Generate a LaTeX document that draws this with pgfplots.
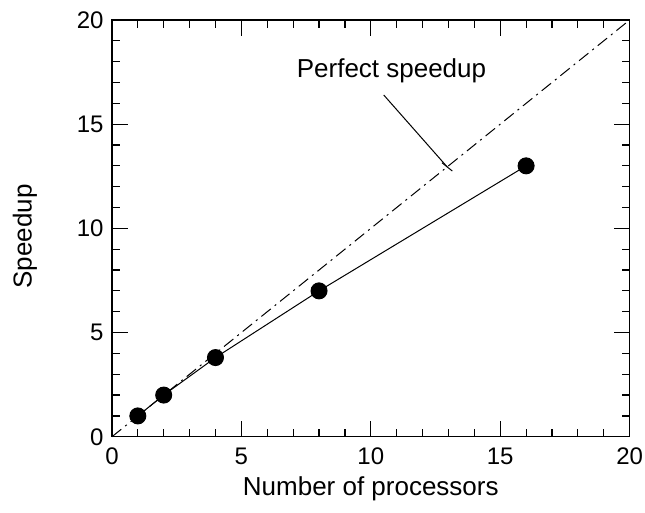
\documentclass[border=0pt]{standalone}
\usepackage{fontspec}
\setmainfont{Liberation Sans}
\usepackage{pgfplots}
\pgfplotsset{compat=1.18}

\begin{document}
\fontsize{12}{14}\selectfont
\begin{tikzpicture}
\begin{axis}[
    width=259pt, height=208.5pt,
    scale only axis,
    xmin=0, xmax=20, ymin=0, ymax=20,
    xtick={0,5,...,20}, ytick={0,5,...,20},
    minor tick num=4,
    tick align=inside,
    major tick length=8pt,
    minor tick length=4pt,
    tick style={black, line width=0.6pt},
    axis line style={line width=0.6pt},
    xlabel={Number of processors},
    ylabel={Speedup},
    ticklabel style={font=\fontsize{12}{14}\selectfont},
    xticklabel style={yshift=-1.5pt, inner xsep=1pt},
    label style={font=\fontsize{13}{15}\selectfont},
    xlabel style={at={(rel axis cs:0.5,0)}, anchor=center, yshift=-26pt},
    ylabel style={at={(rel axis cs:0,0.5)}, anchor=center, yshift=43.5pt, xshift=-4pt},
    /pgf/number format/assume math mode=true,
    clip=false,
]
% perfect speedup
\addplot[black, line width=0.5pt, dash pattern=on 6pt off 2.5pt on 1pt off 2.5pt] coordinates {(0,0) (20,20)};
% measured
\addplot[black, line width=0.5pt, mark=*, mark size=4pt] coordinates {
(1,1) (2,2) (4,3.8) (8,7) (16,13)};
\draw[black, line width=0.5pt] (axis cs:10.5,16.4) -- (axis cs:12.95,12.95);
\draw[black, line width=0.5pt] (axis cs:12.75,13.15) -- (axis cs:13.15,12.75);
\node[anchor=south, font=\fontsize{13}{15}\selectfont] at (axis cs:10.8,16.6) {Perfect speedup};
\coordinate (o) at (rel axis cs:0,0);
\coordinate (t) at (rel axis cs:1,1);
\end{axis}
\path ([shift={(-56pt,-38pt)}]o) rectangle ([shift={(7.5pt,10pt)}]t);
\end{tikzpicture}
\end{document}
